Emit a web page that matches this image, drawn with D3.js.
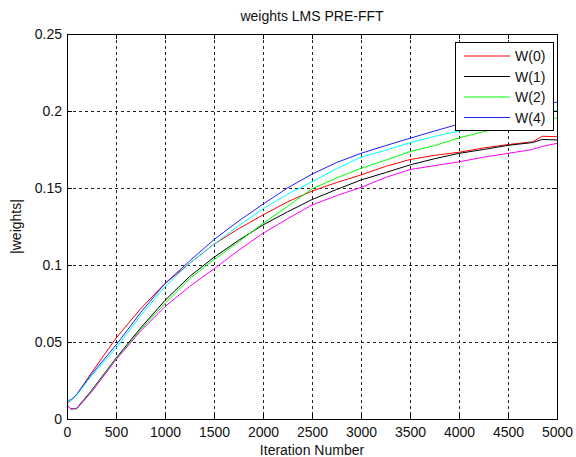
<!DOCTYPE html>
<html>
<head>
<meta charset="utf-8">
<script src="https://cdn.jsdelivr.net/npm/d3@7"></script>
<style>
  body { margin: 0; background: #fff; }
  svg text { font-family: "Liberation Sans", Arial, sans-serif; fill: #111; }
</style>
</head>
<body>
<svg id="graph" width="576" height="457"></svg>
<script>
const iters = [0, 40, 100, 250, 500, 750, 1000, 1250, 1500, 1750, 2000, 2250, 2500,
               2750, 3000, 3250, 3500, 3750, 4000, 4250, 4500, 4750, 4850, 5000];

const w0 = [0.0105, 0.012, 0.016, 0.030, 0.0525, 0.0715, 0.088, 0.101, 0.1135, 0.1235, 0.1325, 0.141, 0.148,
            0.1535, 0.1585, 0.164, 0.1685, 0.1712, 0.1732, 0.176, 0.1782, 0.180, 0.1836, 0.1833];
const w1 = [0.009, 0.0065, 0.007, 0.0185, 0.0395, 0.059, 0.077, 0.0925, 0.105, 0.116, 0.126, 0.1345, 0.1425,
            0.149, 0.1552, 0.160, 0.165, 0.169, 0.1725, 0.175, 0.1777, 0.1795, 0.1815, 0.1812];
const w2 = [0.009, 0.0065, 0.0065, 0.018, 0.039, 0.058, 0.075, 0.091, 0.1035, 0.115, 0.127, 0.138, 0.1495,
            0.1565, 0.1628, 0.168, 0.1736, 0.1775, 0.1825, 0.1866, 0.190, 0.193, 0.194, 0.1955];
const w4 = [0.0118, 0.0125, 0.016, 0.029, 0.048, 0.069, 0.088, 0.1025, 0.1165, 0.1285, 0.1395, 0.150, 0.159,
            0.1665, 0.1725, 0.1775, 0.1823, 0.187, 0.1915, 0.195, 0.1985, 0.2025, 0.204, 0.2058];
const w3 = [0.0118, 0.012, 0.0155, 0.028, 0.046, 0.067, 0.086, 0.101, 0.1135, 0.1255, 0.1365, 0.146, 0.154,
            0.1625, 0.170, 0.1745, 0.1794, 0.1835, 0.187, 0.191, 0.1945, 0.198, 0.199, 0.2006];
const w5 = [0.009, 0.0065, 0.0068, 0.0175, 0.0385, 0.057, 0.073, 0.086, 0.0975, 0.1095, 0.1206, 0.130, 0.139,
            0.145, 0.1504, 0.1568, 0.162, 0.1645, 0.167, 0.170, 0.1725, 0.175, 0.177, 0.179];

const series = [
    { name: "W(0)", values: w0, color: "#ff0000" },
    { name: "W(1)", values: w1, color: "#000000" },
    { name: "W(2)", values: w2, color: "#00ff00" },
    { name: "W(4)", values: w4, color: "#1f1fff" },
    { name: null, values: w3, color: "#00ffff" },
    { name: null, values: w5, color: "#ff00ff" },
];

const xTicks = [0, 500, 1000, 1500, 2000, 2500, 3000, 3500, 4000, 4500, 5000];
const yTicks = [0, 0.05, 0.1, 0.15, 0.2, 0.25];

let svg = d3.select("#graph");

let pL = 67, pR = 557, pT = 34, pB = 419;

let scX = d3.scaleLinear().domain([0, 5000]).range([pL, pR]);
let scY = d3.scaleLinear().domain([0, 0.25]).range([pB, pT]);

svg.append("rect").attr("x", pL).attr("y", pT)
    .attr("width", pR - pL).attr("height", pB - pT).attr("fill", "#fff");

// dashed grid
let grid = svg.append("g").attr("stroke", "#222").attr("stroke-dasharray", "3,3").attr("stroke-width", 1);
grid.selectAll("line.gx").data(xTicks.slice(1, -1)).enter().append("line")
    .attr("x1", (d) => Math.round(scX(d)) + 0.5).attr("x2", (d) => Math.round(scX(d)) + 0.5)
    .attr("y1", pT).attr("y2", pB);
grid.selectAll("line.gy").data(yTicks.slice(1, -1)).enter().append("line")
    .attr("y1", (d) => Math.round(scY(d)) + 0.5).attr("y2", (d) => Math.round(scY(d)) + 0.5)
    .attr("x1", pL).attr("x2", pR);

// series
let lnMkr = d3.line().x((d) => scX(d[0])).y((d) => scY(d[1]));
let g = svg.append("g");
series.forEach((s) => {
    g.append("path")
        .attr("fill", "none")
        .attr("stroke", s.color)
        .attr("stroke-width", 1)
        .attr("d", lnMkr(iters.map((t, i) => [t, s.values[i]])));
});

// axes, ticks inside on all four sides
let styleAxis = function (ax) {
    ax.select(".domain").remove();
    ax.selectAll("line").attr("stroke", "#000");
    ax.selectAll("text").attr("font-size", 14).attr("fill", "#111")
        .attr("font-family", "'Liberation Sans', Arial, sans-serif");
};

svg.append("g").attr("transform", "translate(0," + pB + ")")
    .call(d3.axisBottom(scX).tickValues(xTicks).tickFormat(d3.format("d"))
        .tickSizeInner(-5).tickSizeOuter(0).tickPadding(8))
    .call(styleAxis);
svg.append("g").attr("transform", "translate(0," + pT + ")")
    .call(d3.axisTop(scX).tickValues(xTicks).tickSizeInner(-5).tickSizeOuter(0).tickFormat(""))
    .call(styleAxis);
svg.append("g").attr("transform", "translate(" + pL + ",0)")
    .call(d3.axisLeft(scY).tickValues(yTicks).tickFormat((d) => (d === 0 ? "0" : String(d)))
        .tickSizeInner(-5).tickSizeOuter(0).tickPadding(5))
    .call(styleAxis);
svg.append("g").attr("transform", "translate(" + pR + ",0)")
    .call(d3.axisRight(scY).tickValues(yTicks).tickSizeInner(-5).tickSizeOuter(0).tickFormat(""))
    .call(styleAxis);

svg.append("rect").attr("x", pL + 0.5).attr("y", pT + 0.5)
    .attr("width", pR - pL).attr("height", pB - pT)
    .attr("fill", "none").attr("stroke", "#000");

// labels
svg.append("text").attr("x", (pL + pR) / 2).attr("y", 21)
    .attr("text-anchor", "middle").attr("font-size", 14).text("weights LMS PRE-FFT");
svg.append("text").attr("x", (pL + pR) / 2).attr("y", 455)
    .attr("text-anchor", "middle").attr("font-size", 14).text("Iteration Number");
svg.append("text").attr("transform", "translate(21," + (pT + pB) / 2 + ") rotate(-90)")
    .attr("text-anchor", "middle").attr("font-size", 14).text("|weights|");

// legend
let named = series.filter((s) => s.name);
let lg = svg.append("g");
lg.append("rect").attr("x", 455.5).attr("y", 42.5).attr("width", 98).attr("height", 88)
    .attr("fill", "#fff").attr("stroke", "#000");
named.forEach((s, i) => {
    let yy = 56 + i * 20.5;
    lg.append("line").attr("x1", 464).attr("x2", 510).attr("y1", yy).attr("y2", yy)
        .attr("stroke", s.color);
    lg.append("text").attr("x", 515).attr("y", yy).attr("dy", "0.36em")
        .attr("font-size", 14).text(s.name);
});
</script>
</body>
</html>
